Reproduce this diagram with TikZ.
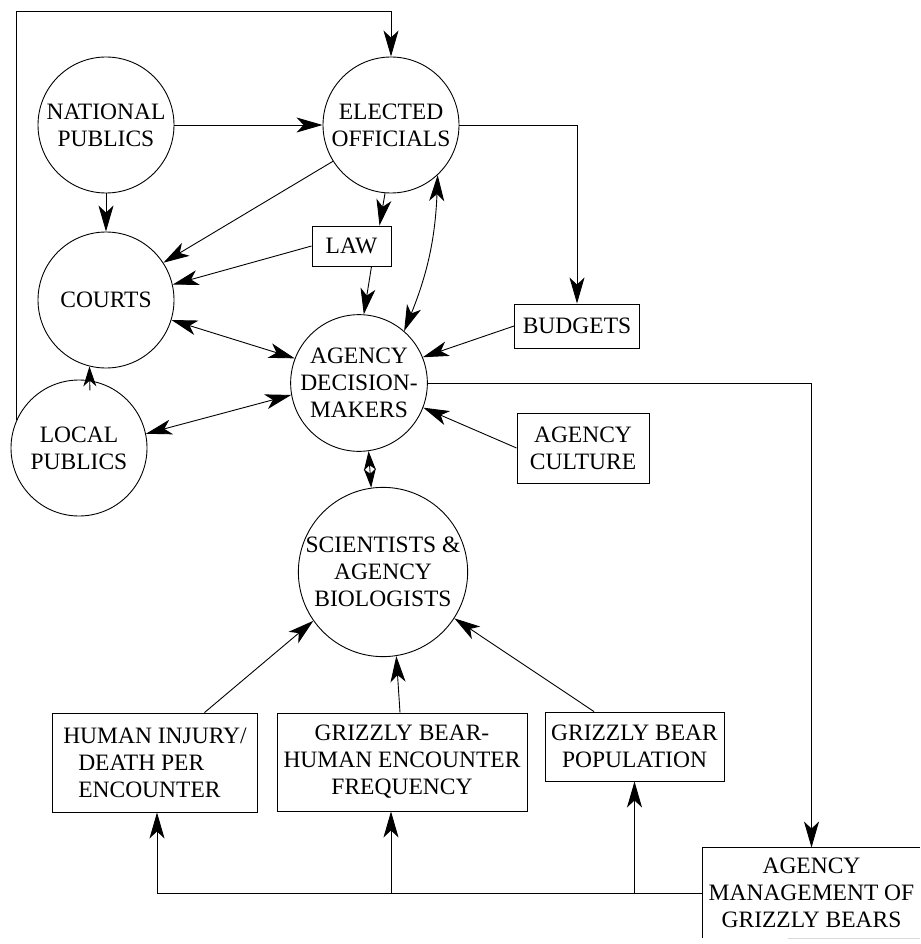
\documentclass[tikz,border=0pt]{standalone}
\usepackage{fontspec}
\setmainfont{Liberation Serif}
\usetikzlibrary{arrows.meta,calc}
\begin{document}
\begin{tikzpicture}[x=1pt,y=-1pt,
  every node/.style={font=\fontsize{23.5}{27}\selectfont, align=center},
  circ/.style={circle, draw, line width=0.9pt, minimum size=136pt, inner sep=0pt},
  bigcirc/.style={circ, minimum size=168pt},
  box/.style={rectangle, draw, line width=0.9pt, inner sep=0pt},
  tip/.tip={Stealth[length=26pt,width=15pt,inset=7pt]},
  smalltip/.tip={Stealth[length=19pt,width=12pt,inset=5pt]},
  arr/.style={-tip, line width=0.9pt},
  darr/.style={tip-tip, line width=0.9pt},
  line/.style={line width=0.9pt}]
\clip (0,0) rectangle (920,944);
\fill[white] (0,0) rectangle (920,944);
% circles
\node[circ] (nat) at (106,125) {NATIONAL\\PUBLICS};
\node[circ] (ele) at (391,125) {ELECTED\\OFFICIALS};
\node[circ] (crt) at (106,300) {COURTS};
\node[circ] (loc) at (79,448) {LOCAL\\PUBLICS};
\node[circ] (adm) at (359,383) {AGENCY\\DECISION-\\MAKERS};
\node[bigcirc] (sci) at (383,572) {SCIENTISTS \&\\AGENCY\\BIOLOGISTS};
% boxes
\node[box, minimum width=79pt, minimum height=40pt] (law) at (351.5,246) {LAW};
\node[box, minimum width=125pt, minimum height=44pt] (bud) at (577,326) {BUDGETS};
\node[box, minimum width=132pt, minimum height=70pt] (cul) at (583,448) {AGENCY\\CULTURE};
\node[box, minimum width=205pt, minimum height=99pt, align=left] (hum) at (155,762.5) {HUMAN INJURY/\\\hspace*{15pt}DEATH PER\\\hspace*{15pt}ENCOUNTER};
\node[box, minimum width=250pt, minimum height=98pt] (enc) at (402,762) {GRIZZLY BEAR-\\HUMAN ENCOUNTER\\FREQUENCY};
\node[box, minimum width=179pt, minimum height=69pt] (pop) at (634.5,746.5) {GRIZZLY BEAR\\POPULATION};
\node[box, draw=none, minimum width=217pt, minimum height=90pt] (mgt) at (811.5,893) {AGENCY\\MANAGEMENT OF\\GRIZZLY BEARS};
\draw[line] (mgt.south west) -- (mgt.north west) -- (mgt.north east);
\draw[line, black!15] ([xshift=85pt]mgt.south west) -- (mgt.south east);
% connectors
\coordinate (tl) at (17,11);
\draw[arr] (loc.156) |- (ele.north |- tl) -- (ele.north);
\draw[arr] (nat.east) -- (ele.west);
\draw[arr] (nat.south) -- (crt.north);
\draw[arr] (ele.212) -- (crt.33);
\draw[arr] (ele.265) -- ([xshift=28pt]law.north);
\draw[arr] (law.west) -- (crt.13);
\draw[arr] ([xshift=20pt]law.south) -- (adm.86);
\draw[darr] (ele.313) to[bend left=10] (adm.49);
\draw[arr] (ele.east) -| (bud.north);
\draw[arr] (bud.west) -- (adm.22);
\draw[arr] (cul.west) -- (adm.-21);
\draw[arr] (adm.east) -| (mgt.north);
\draw[darr] (crt.-17) -- (adm.159);
\draw[darr] (loc.12) -- (adm.190);
\draw[line, -{Stealth[length=20pt,width=13pt,inset=6pt]}, shorten <=-10pt] (loc.81) -- (crt.256);
\coordinate (m) at ($(adm.278)!0.5!(sci.98)$);
\draw[line, -smalltip] (m) -- (adm.278);
\draw[line, -smalltip] (m) -- (sci.98);
\draw[arr] ([xshift=49.5pt]hum.north) -- (sci.215);
\draw[arr] ([xshift=-2pt]enc.north) -- (sci.279);
\draw[arr] ([xshift=-40.5pt]pop.north) -- (sci.327);
\draw[arr] (mgt.west) -| ([xshift=2pt]hum.south);
\draw[arr] ([xshift=-11pt]enc.south |- mgt.west) -- ([xshift=-11pt]enc.south);
\draw[arr] (pop.south |- mgt.west) -- (pop.south);
\end{tikzpicture}
\end{document}
